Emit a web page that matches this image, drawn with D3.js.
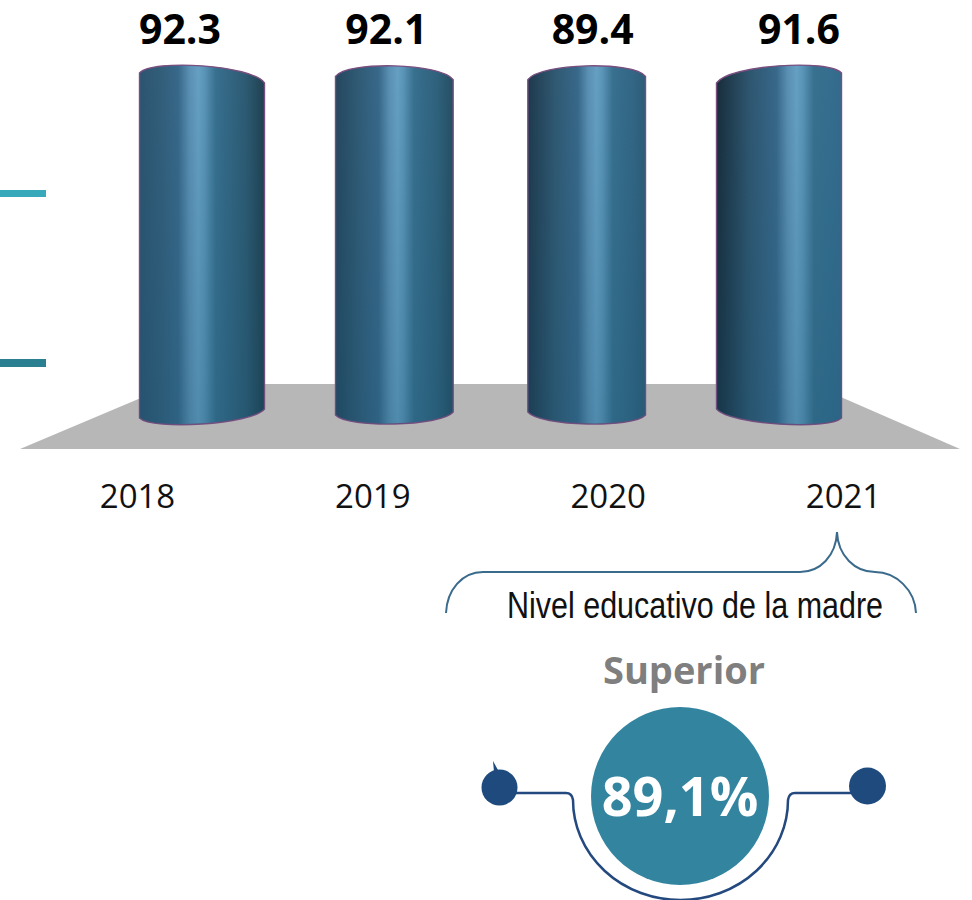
<!DOCTYPE html>
<html>
<head>
<meta charset="utf-8">
<script src="https://cdn.jsdelivr.net/npm/d3@7"></script>
<style>
  html, body { margin: 0; padding: 0; background: #fff; }
  svg { display: block; }
</style>
</head>
<body>
<svg id="chart"></svg>
<script>
const years = ["2018", "2019", "2020", "2021"];
const values = [92.3, 92.1, 89.4, 91.6];
const educationLabel = "Nivel educativo de la madre";
const educationLevel = "Superior";
const educationValue = "89,1%";

let config = {
  'svg': {width: 972, height: 900},
  'bars': {left: 202, right: 779, top: 78, bottom: 413.5},
  'labels': {left: 180, right: 799, y: 44},
  'axis': {left: 137, right: 843, y: 518},
};

let svg = d3.select("svg#chart")
  .attr("width", config.svg.width)
  .attr("height", config.svg.height);

let defs = svg.append("defs");

let scale = {};

scale.x = d3.scalePoint()
  .domain(years)
  .range([config.bars.left, config.bars.right]);

// value labels sit off centre from the cylinders
scale.label = d3.scalePoint()
  .domain(years)
  .range([config.labels.left, config.labels.right]);

// labels under the floor are spread wider than the cylinders
scale.axis = d3.scalePoint()
  .domain(years)
  .range([config.axis.left, config.axis.right]);

// -1 at the first cylinder, 1 at the last one: how far it leans in the perspective
scale.lean = d3.scaleLinear()
  .domain([config.bars.left, config.bars.right])
  .range([-1, 1]);

// outer cylinders are a little wider
scale.width = d3.scaleLinear()
  .domain([0, 1])
  .range([114, 125]);

let data = years.map((d, i) => ({year: d, value: values[i]}));

// floor
svg.append("path")
  .attr("d", "M20,449 L174,384 L811,384 L960,449 Z")
  .attr("fill", "#b7b7b7");

// legend marks cut at the left edge
svg.append("rect").attr("x", 0).attr("y", 190).attr("width", 46).attr("height", 7).attr("fill", "#38a9bb");
svg.append("rect").attr("x", 0).attr("y", 359).attr("width", 46).attr("height", 8).attr("fill", "#2a8090");

// vertical shade laid on every cylinder
let shade = defs.append("linearGradient")
  .attr("id", "shade")
  .attr("x1", 0).attr("y1", 0).attr("x2", 0).attr("y2", 1);
shade.append("stop").attr("offset", "0%").attr("stop-color", "#12506f").attr("stop-opacity", 0);
shade.append("stop").attr("offset", "100%").attr("stop-color", "#12506f").attr("stop-opacity", 0.25);

function cylinderPath(d) {
  let cx = scale.x(d.year);
  let lean = scale.lean(cx);
  let w = scale.width(Math.abs(lean));
  let l = cx - w / 2;
  let r = cx + w / 2;
  let topL = config.bars.top + 5 * lean;
  let topR = config.bars.top - 5 * lean;
  let botL = config.bars.bottom - 4.5 * lean;
  let botR = config.bars.bottom + 4.5 * lean;
  return "M" + l + "," + topL +
    " C" + (l + 0.1 * w) + "," + (61.8 + 3 * lean) + " " + (r - 0.1 * w) + "," + (61.8 - 3 * lean) + " " + r + "," + topR +
    " L" + r + "," + botR +
    " C" + (r - 0.1 * w) + "," + (427.5 + 3 * lean) + " " + (l + 0.1 * w) + "," + (427.5 - 3 * lean) + " " + l + "," + botL + " Z";
}

let leftEdge = d3.scaleLinear().domain([-1, 1]).range(["#2c5470", "#182c3a"]);
let rightEdge = d3.scaleLinear().domain([-1, 1]).range(["#20404f", "#336b8c"]);

data.forEach(function(d, i) {
  let lean = scale.lean(scale.x(d.year));
  let peak = 0.555 + 0.085 * lean;
  let g = defs.append("linearGradient").attr("id", "cyl" + i);
  let stops = [
    [0, leftEdge(lean)],
    [peak * 0.4, d3.interpolateRgb(leftEdge(lean), "#35637f")(0.75)],
    [peak - 0.16, "#38688a"],
    [peak - 0.07, "#5a90b3"],
    [peak, "#659fc2"],
    [peak + 0.05, "#5a94b7"],
    [peak + 0.14, "#38708f"],
    [peak + (1 - peak) * 0.72, d3.interpolateRgb("#37708f", rightEdge(lean))(0.45)],
    [1, rightEdge(lean)]
  ];
  g.selectAll("stop")
    .data(stops)
    .enter()
    .append("stop")
    .attr("offset", s => s[0])
    .attr("stop-color", s => s[1]);
});

// the cylinders in the reference all have the same height, only the labels differ
let bars = svg.append("g").attr("id", "bars");

bars.selectAll("path.body")
  .data(data)
  .enter()
  .append("path")
  .attr("class", "body")
  .attr("d", cylinderPath)
  .attr("fill", (d, i) => "url(#cyl" + i + ")")
  .attr("stroke", "#7a4f80")
  .attr("stroke-width", 1.4);

bars.selectAll("path.shade")
  .data(data)
  .enter()
  .append("path")
  .attr("class", "shade")
  .attr("d", cylinderPath)
  .attr("fill", "url(#shade)");

// value labels
svg.append("g")
  .selectAll("text")
  .data(data)
  .enter()
  .append("text")
  .text(d => d3.format(".1f")(d.value))
  .attr("x", d => scale.label(d.year))
  .attr("y", config.labels.y)
  .attr("text-anchor", "middle")
  .attr("font-family", "'Open Sans'")
  .attr("font-weight", "bold")
  .attr("font-size", "41px")
  .attr("fill", "#000");

// years
let axisX = d3.axisBottom(scale.axis).tickSize(0).tickPadding(0);

let gx = svg.append("g")
  .attr("id", "x-axis")
  .attr("transform", translate(0, config.axis.y - 33))
  .call(axisX);

gx.select(".domain").remove();
gx.selectAll("text")
  .attr("font-family", "'Open Sans'")
  .attr("font-size", "33px")
  .attr("fill", "#111");

// brace
svg.append("path")
  .attr("d", "M446,613 C447,590 462,572 483,572 L800,572 C820,572 836,556 837,532 C838,556 855,572 875,572 C896,572 915,590 916,613")
  .attr("fill", "none")
  .attr("stroke", "#3a6a8c")
  .attr("stroke-width", 2);

svg.append("text")
  .text(educationLabel)
  .attr("x", 507)
  .attr("y", 618)
  .attr("font-family", "'Liberation Sans'")
  .attr("font-size", "36px")
  .attr("textLength", 376)
  .attr("lengthAdjust", "spacingAndGlyphs")
  .attr("fill", "#111");

svg.append("text")
  .text(educationLevel)
  .attr("x", 684)
  .attr("y", 684)
  .attr("text-anchor", "middle")
  .attr("font-family", "'Open Sans'")
  .attr("font-weight", "bold")
  .attr("font-size", "38px")
  .attr("fill", "#7f7f7f");

// badge
svg.append("path")
  .attr("d", "M500,793 L566,793 Q572,793 573,800 A107.5,100 0 0 0 788,800 Q789,793 795,793 L867,793")
  .attr("fill", "none")
  .attr("stroke", "#24497f")
  .attr("stroke-width", 2.5);

svg.append("path")
  .attr("d", "M493,761 L494,772 L498,770 Z")
  .attr("fill", "#1f4a7d");

svg.append("circle").attr("cx", 499.5).attr("cy", 787.5).attr("r", 18).attr("fill", "#1f4a7d");
svg.append("circle").attr("cx", 867.5).attr("cy", 786).attr("r", 18.5).attr("fill", "#1f4a7d");
svg.append("circle").attr("cx", 680).attr("cy", 796).attr("r", 89).attr("fill", "#33859f");

svg.append("text")
  .text(educationValue)
  .attr("x", 680)
  .attr("y", 816)
  .attr("text-anchor", "middle")
  .attr("font-family", "'Open Sans'")
  .attr("font-weight", "bold")
  .attr("font-size", "54px")
  .attr("fill", "#fff");

function translate(x, y) {
  return 'translate(' + x + ',' + y + ')';
}
</script>
</body>
</html>
